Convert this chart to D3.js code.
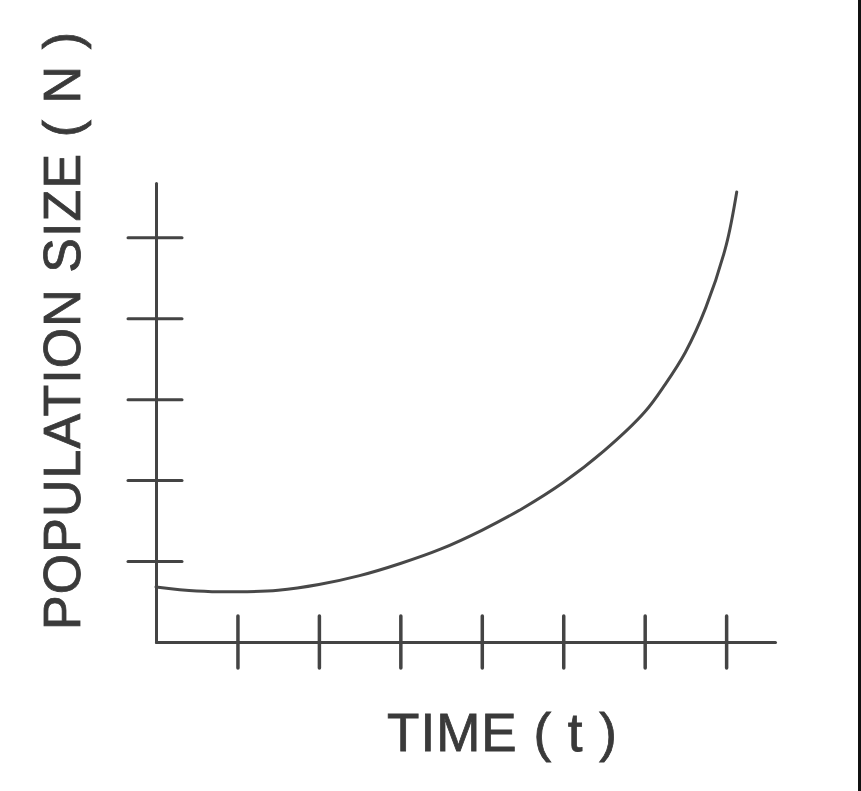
<!DOCTYPE html>
<html>
<head>
<meta charset="utf-8">
<script src="https://cdn.jsdelivr.net/npm/d3@7"></script>
<style>
  body { margin: 0; background: #fff; }
  svg { display: block; }
  .axis path, .axis line { stroke: #444; stroke-width: 3px; stroke-linecap: round; }
  .axis text { display: none; }
</style>
</head>
<body>
<div id="chart-area"></div>
<script>
// curve (time units vs population units)
const timeValues = [0, 0.5, 1, 1.5, 2, 2.5, 3, 3.5, 4, 4.5, 5, 5.5, 6, 6.25, 6.5, 6.75, 7, 7.13];
const popValues = [0.68, 0.63, 0.62, 0.64, 0.71, 0.82, 0.97, 1.15, 1.38, 1.65, 1.97, 2.36, 2.84, 3.18, 3.58, 4.13, 4.9, 5.56];
const xTicks = [1, 2, 3, 4, 5, 6, 7];
const yTicks = [1, 2, 3, 4, 5];

const width = 861;
const height = 791;

const svg = d3.select('#chart-area')
  .append('svg')
    .attr('width', width)
    .attr('height', height);

svg.append('rect')
  .attr('width', width)
  .attr('height', height)
  .attr('fill', '#fff');

// Scales
const x = d3.scaleLinear()
  .domain([0, 7.6])
  .range([156, 775]);

const y = d3.scaleLinear()
  .domain([0, 5.67])
  .range([642, 183]);

// X Axis (ticks cross the line)
const xAxisCall = d3.axisBottom(x)
  .tickValues(xTicks)
  .tickSizeInner(26)
  .tickSizeOuter(0)
  .tickFormat('');
const xAxis = svg.append('g')
  .attr('class', 'axis x-axis')
  .attr('transform', 'translate(0, ' + y(0) + ')')
  .call(xAxisCall);
xAxis.selectAll('.tick line')
  .attr('y1', -26)
  .style('stroke-width', '3.5px');

// Y Axis
const yAxisCall = d3.axisLeft(y)
  .tickValues(yTicks)
  .tickSizeInner(28)
  .tickSizeOuter(0)
  .tickFormat('');
const yAxis = svg.append('g')
  .attr('class', 'axis y-axis')
  .attr('transform', 'translate(' + x(0) + ', 0)')
  .call(yAxisCall);
yAxis.selectAll('.tick line')
  .attr('x1', 26);

// Curve
const points = timeValues.map((t, i) => [t, popValues[i]]);
const line = d3.line()
  .x(d => x(d[0]))
  .y(d => y(d[1]))
  .curve(d3.curveCatmullRom.alpha(0.5));

svg.append('path')
  .datum(points)
  .attr('d', line)
  .attr('fill', 'none')
  .attr('stroke', '#484848')
  .attr('stroke-width', 3)
  .attr('stroke-linecap', 'round');

// Labels
svg.append('text')
  .attr('transform', 'translate(80, 331) rotate(-90)')
  .attr('text-anchor', 'middle')
  .attr('font-family', 'Liberation Sans, Arial, sans-serif')
  .attr('font-size', '52px')
  .attr('fill', '#3a3a3a')
  .attr('stroke', '#3a3a3a')
  .attr('stroke-width', 0.8)
  .attr('textLength', 598)
  .attr('lengthAdjust', 'spacing')
  .text('POPULATION SIZE ( N )');

svg.append('text')
  .attr('x', 502)
  .attr('y', 751)
  .attr('text-anchor', 'middle')
  .attr('font-family', 'Liberation Sans, Arial, sans-serif')
  .attr('font-size', '53px')
  .attr('fill', '#3a3a3a')
  .attr('stroke', '#3a3a3a')
  .attr('stroke-width', 0.8)
  .attr('textLength', 230)
  .attr('lengthAdjust', 'spacing')
  .text('TIME ( t )');

// dark edge on the right side of the scan
svg.append('rect')
  .attr('x', 858)
  .attr('y', 0)
  .attr('width', 3)
  .attr('height', height)
  .attr('fill', '#111');
</script>
</body>
</html>
